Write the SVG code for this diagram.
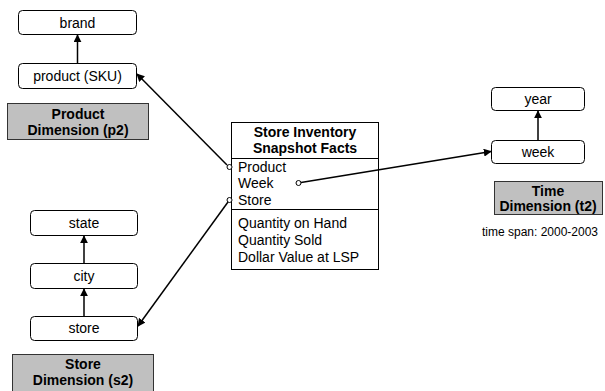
<svg xmlns="http://www.w3.org/2000/svg" width="605" height="391" viewBox="0 0 605 391">
<defs>
<style>
.box{fill:#fff;stroke:#000;stroke-width:1}
.dim{fill:#c0c0c0;stroke:#333;stroke-width:1}
.t{font-family:"Liberation Sans",Arial,sans-serif;font-size:14px;fill:#000}
.c{text-anchor:middle}
.b{font-weight:bold}
.ln{stroke:#000;stroke-width:1.5;fill:none}
.dot{fill:#fff;stroke:#000;stroke-width:1}
</style>
<marker id="arr" viewBox="0 0 10 10" refX="9" refY="5" markerWidth="8" markerHeight="8" markerUnits="userSpaceOnUse" orient="auto">
<path d="M0,0 L10,5 L0,10 z" fill="#000"/>
</marker>
</defs>
<rect width="605" height="391" fill="#fff"/>

<g id="brand"><rect class="box" x="18.5" y="10.5" width="118" height="24" rx="4"/><text class="t c" x="77.5" y="27.5">brand</text></g>
<g id="product"><rect class="box" x="18.5" y="63.5" width="118" height="25" rx="4"/><text class="t c" x="77.5" y="81">product (SKU)</text></g>
<g id="productDim"><rect class="dim" x="7.5" y="103.5" width="141" height="36"/><text class="t c b" x="78" y="119">Product</text><text class="t c b" x="78" y="135">Dimension (p2)</text></g>

<g id="facts">
<rect class="box" x="231.5" y="122.5" width="147" height="147"/>
<line x1="231.5" y1="158.5" x2="378.5" y2="158.5" stroke="#000"/>
<line x1="231.5" y1="209.5" x2="378.5" y2="209.5" stroke="#000"/>
<text class="t c b" x="305" y="137">Store Inventory</text>
<text class="t c b" x="305" y="153">Snapshot Facts</text>
<text class="t" x="238" y="172">Product</text>
<text class="t" x="238" y="188">Week</text>
<text class="t" x="238" y="205">Store</text>
<text class="t" x="238" y="228">Quantity on Hand</text>
<text class="t" x="238" y="245">Quantity Sold</text>
<text class="t" x="238" y="262">Dollar Value at LSP</text>
</g>

<g id="year"><rect class="box" x="491.5" y="87.5" width="93" height="23" rx="4"/><text class="t c" x="538" y="104">year</text></g>
<g id="week"><rect class="box" x="491.5" y="140.5" width="93" height="23" rx="4"/><text class="t c" x="538" y="157">week</text></g>
<g id="timeDim"><rect class="dim" x="494.5" y="181.5" width="108" height="33"/><text class="t c b" x="548" y="196">Time</text><text class="t c b" x="548" y="211">Dimension (t2)</text></g>
<g id="timeSpan"><text class="t c" style="font-size:12px" x="540" y="236">time span: 2000-2003</text></g>

<g id="state"><rect class="box" x="30.5" y="210.5" width="107" height="25" rx="4"/><text class="t c" x="84" y="228">state</text></g>
<g id="city"><rect class="box" x="30.5" y="263.5" width="107" height="25" rx="4"/><text class="t c" x="84" y="281">city</text></g>
<g id="store"><rect class="box" x="30.5" y="316.5" width="107" height="24" rx="4"/><text class="t c" x="84" y="333">store</text></g>
<g id="storeDim"><rect class="dim" x="12.5" y="354.5" width="141" height="40"/><text class="t c b" x="83" y="369">Store</text><text class="t c b" x="83" y="385">Dimension (s2)</text></g>

<g id="connectors">
<line class="ln" x1="77.5" y1="63" x2="77.5" y2="35" marker-end="url(#arr)"/>
<line class="ln" x1="84" y1="263" x2="84" y2="236" marker-end="url(#arr)"/>
<line class="ln" x1="84" y1="316" x2="84" y2="289" marker-end="url(#arr)"/>
<line class="ln" x1="538" y1="140" x2="538" y2="111" marker-end="url(#arr)"/>
<line class="ln" x1="227" y1="165" x2="137" y2="74" marker-end="url(#arr)"/>
<line class="ln" x1="228" y1="202" x2="138" y2="326" marker-end="url(#arr)"/>
<line class="ln" x1="301" y1="182.5" x2="491" y2="151.5" marker-end="url(#arr)"/>
<circle class="dot" cx="229.5" cy="167" r="2.5"/>
<circle class="dot" cx="229.5" cy="200" r="2.5"/>
<circle class="dot" cx="298.5" cy="183" r="2.5"/>
</g>
</svg>
